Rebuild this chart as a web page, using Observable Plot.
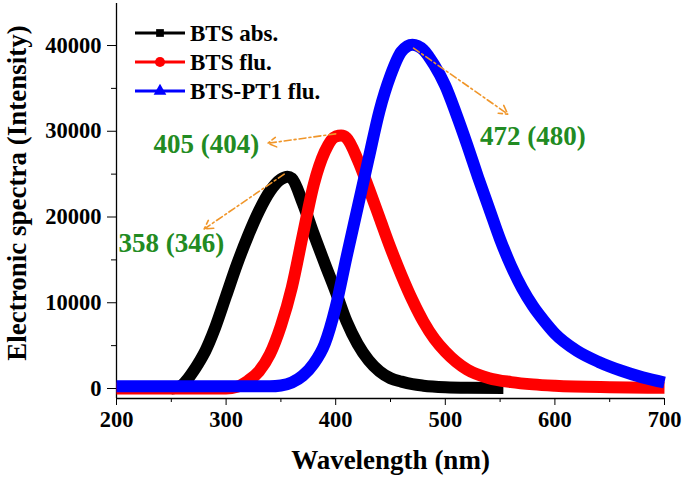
<!DOCTYPE html>
<html>
<head>
<meta charset="utf-8">
<script src="https://cdn.jsdelivr.net/npm/d3@7"></script>
<script src="https://cdn.jsdelivr.net/npm/@observablehq/plot@0.6"></script>
<style>
  html, body { margin: 0; padding: 0; background: #fff; }
  #chart { position: relative; width: 685px; height: 477px; }
</style>
</head>
<body>
<div id="chart"></div>
<script>
// ---- data ----
const seriesNames = ["BTS abs.", "BTS flu.", "BTS-PT1 flu."];
const seriesColors = ["#000000", "#ff0000", "#0000ff"];

const btsAbsX = [250,255,260,265,270,275,280,285,290,300,310,320,330,340,350,356,360,370,380,390,400,410,420,430,440,450,460,470,480,500,520,553];
const btsAbsY = [0,100,400,1100,2000,3000,4100,5500,7100,10800,14500,17800,20700,23000,24400,24700,24500,21600,18000,14600,11300,7800,5200,3300,2000,1200,800,500,330,150,80,50];

const btsFluX = [200,300,310,320,330,340,350,360,370,380,390,400,405,410,420,430,440,450,460,470,480,490,500,510,520,540,560,580,600,650,700];
const btsFluY = [0,0,200,900,2000,4000,7300,11800,17900,23800,27600,29400,29500,29200,26700,23400,19900,16400,13200,10300,7800,5800,4300,3100,2200,1200,750,480,320,150,90];

const ptFluX = [200,340,350,360,370,380,390,400,410,420,430,440,450,460,470,480,490,500,510,520,530,540,550,560,570,580,590,600,620,640,660,680,700];
const ptFluY = [250,250,350,700,1500,2900,5200,9500,15400,21100,26800,32400,36500,39300,40100,39500,37700,35300,32000,28400,24600,21000,17400,14300,11700,9600,7900,6400,4400,3100,2100,1300,700];

const xMajorTicks = [200,300,400,500,600,700];
const xMinorTicks = [250,350,450,550,650];
const yMajorTicks = [0,10000,20000,30000,40000];
const yMinorTicks = [5000,15000,25000,35000];

// annotations: label, label position, arrow start (peak) and end
const annLabels = ["358 (346)", "405 (404)", "472 (480)"];
const annLabelX = [250, 282, 580];
const annLabelY = [16900, 28500, 29450];
const annFromX = [353, 400, 471];
const annFromY = [25000, 29700, 39700];
const annToX = [280, 338, 557];
const annToY = [18600, 28600, 32000];

const xDomain = [200, 700];
const yDomain = [-1166, 44900];

// ---- tables ----
const rows = [];
[[btsAbsX, btsAbsY], [btsFluX, btsFluY], [ptFluX, ptFluY]].forEach(([xs, ys], i) => {
  xs.forEach((x, j) => rows.push({series: seriesNames[i], x, y: ys[j]}));
});
const anns = annLabels.map((t, i) => ({t, lx: annLabelX[i], ly: annLabelY[i], x1: annFromX[i], y1: annFromY[i], x2: annToX[i], y2: annToY[i]}));

const font = "'Liberation Serif', 'Times New Roman', serif";

const chart = Plot.plot({
  width: 685,
  height: 477,
  marginLeft: 116,
  marginRight: 21,
  marginTop: 3,
  marginBottom: 79,
  style: {fontFamily: font, fontWeight: "bold", background: "#fff", overflow: "visible"},
  x: {domain: xDomain},
  y: {domain: yDomain},
  color: {domain: seriesNames, range: seriesColors},
  marks: [
    Plot.axisX({ticks: xMajorTicks, tickSize: 7, tickPadding: 6, fontSize: 22.5, fontWeight: "bold", label: null, tickFormat: d => String(d)}),
    Plot.axisX({ticks: xMinorTicks, tickSize: 4, text: null, label: null}),
    Plot.axisY({ticks: yMajorTicks, tickSize: 9, tickPadding: 6, fontSize: 22.5, fontWeight: "bold", label: null, tickFormat: d => String(d)}),
    Plot.axisY({ticks: yMinorTicks, tickSize: 5, text: null, label: null}),
    Plot.ruleX([xDomain[0]], {stroke: "#000", strokeWidth: 1.3}),
    Plot.ruleY([yDomain[0]], {stroke: "#000", strokeWidth: 1.3}),
    Plot.line(rows, {x: "x", y: "y", z: "series", stroke: "series", strokeWidth: 12, curve: "monotone-x", strokeLinecap: "butt", strokeLinejoin: "round"}),
    Plot.arrow(anns, {x1: "x1", y1: "y1", x2: "x2", y2: "y2", stroke: "#f0962a", strokeWidth: 1.6, strokeDasharray: "7,3,2,3", headLength: 9}),
    Plot.text(anns, {x: "lx", y: "ly", text: "t", fill: "#228b22", fontSize: 27, fontWeight: "bold", fontFamily: font}),
    Plot.text(["Wavelength (nm)"], {frameAnchor: "bottom", dy: 62, lineAnchor: "middle", textAnchor: "middle", fontSize: 27, fontWeight: "bold", fill: "#000", fontFamily: font}),
    Plot.text(["Electronic spectra (Intensity)"], {frameAnchor: "left", dx: -99, dy: -8, rotate: -90, textAnchor: "middle", lineAnchor: "middle", fontSize: 27, fontWeight: "bold", fill: "#000", fontFamily: font})
  ]
});

// legend inside the plot area
const svg = d3.select(chart);
const leg = svg.append("g").attr("transform", "translate(135,33)");
seriesNames.forEach((name, i) => {
  const g = leg.append("g").attr("transform", `translate(0,${i * 29})`);
  g.append("line").attr("x1", 0).attr("x2", 50).attr("y1", 0).attr("y2", 0)
    .attr("stroke", seriesColors[i]).attr("stroke-width", 3);
  const sym = i === 0 ? d3.symbolSquare : i === 1 ? d3.symbolCircle : d3.symbolTriangle;
  const size = i === 0 ? 60 : i === 1 ? 80 : 70;
  g.append("path").attr("d", d3.symbol(sym, size)()).attr("transform", "translate(25,0)")
    .attr("fill", seriesColors[i]);
  g.append("text").attr("x", 55).attr("y", 0).attr("dy", "0.35em")
    .attr("text-anchor", "start")
    .attr("font-size", 23).attr("font-weight", "bold").attr("font-family", font)
    .attr("fill", "#000").text(name);
});

document.getElementById("chart").appendChild(chart);
</script>
</body>
</html>
